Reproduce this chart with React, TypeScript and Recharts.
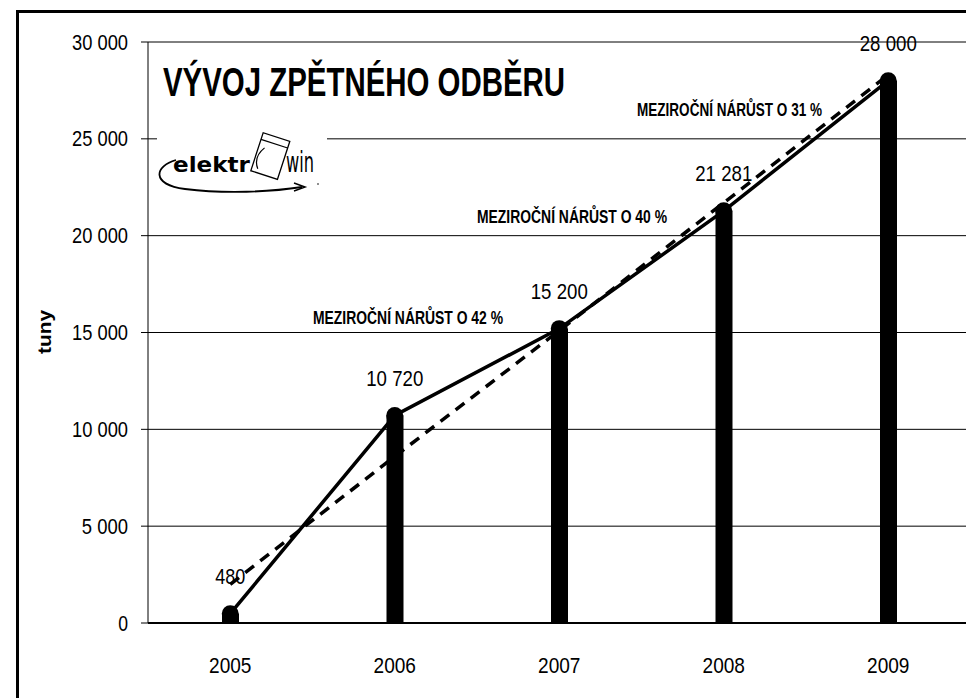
import React from 'react';
import { ComposedChart, Bar, Line, XAxis, YAxis, CartesianGrid, LabelList } from 'recharts';

const years = ['2005', '2006', '2007', '2008', '2009'];
const collected = [480, 10720, 15200, 21281, 28000];
const trend = [2000, 8600, 15100, 21700, 28300];
const yTicks = [0, 5000, 10000, 15000, 20000, 25000, 30000];
const chartTitle = 'VÝVOJ ZPĚTNÉHO ODBĚRU';
const yLabel = 'tuny';
const growthNotes = ['MEZIROČNÍ NÁRŮST O 42 %', 'MEZIROČNÍ NÁRŮST O 40 %', 'MEZIROČNÍ NÁRŮST O 31 %'];
const logoWords = ['elektr', 'win'];

const data = years.map((y, i) => ({ year: y, value: collected[i], trend: trend[i] }));

const FONT = "'Liberation Sans Narrow', 'Arial Narrow', 'Liberation Sans', sans-serif";

const fmt = (v: number) => String(v).replace(/\B(?=(\d{3})+(?!\d))/g, ' ');
const numWidth = (s: string, digit: number) =>
  s.split('').reduce((w, ch) => w + (ch === ' ' ? 7 : digit), 0);

const YTick = (props: any) => {
  const { x, y, payload } = props;
  const s = fmt(payload.value);
  return (
    <text x={x} y={y} textAnchor="end" dominantBaseline="central" fontFamily={FONT} fontSize={22} fill="#000"
      textLength={numWidth(s, 9.8)} lengthAdjust="spacingAndGlyphs">
      {s}
    </text>
  );
};

const XTick = (props: any) => {
  const { x, y, payload } = props;
  const s = String(payload.value);
  return (
    <text x={x} y={y + 34} textAnchor="middle" dominantBaseline="central" fontFamily={FONT} fontSize={22} fill="#000"
      textLength={numWidth(s, 10.6)} lengthAdjust="spacingAndGlyphs">
      {s}
    </text>
  );
};

const ValueLabel = (props: any) => {
  const { x, y, value } = props;
  const s = fmt(value);
  return (
    <text x={x} y={y - 37} textAnchor="middle" dominantBaseline="central" fontFamily={FONT} fontSize={22} fill="#000"
      textLength={numWidth(s, 10)} lengthAdjust="spacingAndGlyphs">
      {s}
    </text>
  );
};

export default function App() {
  return (
    <div style={{ position: 'fixed', left: 0, top: 0, width: 966, height: 698, overflow: 'hidden', background: '#fff' }}>
      <div style={{ position: 'absolute', left: 0, top: 0 }}>
        <ComposedChart width={980} height={698} data={data} margin={{ top: 42, right: 9.5, bottom: 0, left: 0 }}>
          <CartesianGrid vertical={false} stroke="#000" strokeWidth={1} />
          <XAxis
            dataKey="year"
            height={75}
            tickLine={false}
            axisLine={{ stroke: '#000', strokeWidth: 2 }}
            tick={<XTick />}
            interval={0}
          />
          <YAxis
            width={148}
            domain={[0, 30000]}
            ticks={yTicks}
            tickSize={7}
            tickMargin={13}
            tickLine={{ stroke: '#000' }}
            axisLine={{ stroke: '#000' }}
            tick={<YTick />}
            interval={0}
          />
          <Bar dataKey="value" barSize={17} fill="#000" isAnimationActive={false} />
          <Line
            dataKey="trend"
            stroke="#000"
            strokeWidth={3.5}
            strokeDasharray="11 8"
            dot={false}
            activeDot={false}
            isAnimationActive={false}
          />
          <Line
            dataKey="value"
            stroke="#000"
            strokeWidth={3.5}
            dot={{ r: 8.5, fill: '#000', stroke: 'none' }}
            activeDot={false}
            isAnimationActive={false}
          >
            <LabelList dataKey="value" content={<ValueLabel />} />
          </Line>
        </ComposedChart>
      </div>
      <svg width={966} height={698} style={{ position: 'absolute', left: 0, top: 0, pointerEvents: 'none' }}>
        <text x={163} y={96} fontFamily={FONT} fontWeight="bold" fontSize={41} textLength={402} lengthAdjust="spacingAndGlyphs" fill="#000">
          {chartTitle}
        </text>
        <g>
          <rect x={157} y={122} width={170} height={76} fill="#fff" />
          <text x={173} y={172} fontFamily="'DejaVu Sans', sans-serif" fontWeight="bold" fontSize={22} textLength={77} lengthAdjust="spacingAndGlyphs" fill="#000">
            {logoWords[0]}
          </text>
          <g transform="rotate(18 270 157)">
            <rect x={256} y={136} width={28} height={40} fill="none" stroke="#000" strokeWidth={1.3} />
            <line x1={256} y1={143} x2={284} y2={143} stroke="#000" strokeWidth={1.2} />
            <path d="M 262 150 Q 254 162 262 172" fill="none" stroke="#000" strokeWidth={1.2} />
          </g>
          <text x={286} y={172} fontFamily="'DejaVu Sans', sans-serif" fontSize={28} textLength={28} lengthAdjust="spacingAndGlyphs" fill="#000">
            {logoWords[1]}
          </text>
          <path d="M 176 160 C 155 166, 150 184, 185 189 C 225 194, 270 192, 302 187" fill="none" stroke="#000" strokeWidth={1.8} />
          <path d="M 294 183 L 305 187 L 294 191" fill="none" stroke="#000" strokeWidth={1.5} />
          <circle cx={318} cy={184} r={0.8} fill="#000" />
        </g>
        <text x={313} y={318} dominantBaseline="central" fontFamily={FONT} fontWeight="bold" fontSize={18} textLength={190} lengthAdjust="spacingAndGlyphs" fill="#000">
          {growthNotes[0]}
        </text>
        <text x={477} y={217} dominantBaseline="central" fontFamily={FONT} fontWeight="bold" fontSize={18} textLength={190} lengthAdjust="spacingAndGlyphs" fill="#000">
          {growthNotes[1]}
        </text>
        <text x={637} y={110} dominantBaseline="central" fontFamily={FONT} fontWeight="bold" fontSize={18} textLength={185} lengthAdjust="spacingAndGlyphs" fill="#000">
          {growthNotes[2]}
        </text>
        <text
          x={44}
          y={332}
          transform="rotate(-90 44 332)"
          textAnchor="middle"
          dominantBaseline="central"
          fontFamily={FONT}
          fontWeight="bold"
          fontSize={19}
          textLength={44}
          lengthAdjust="spacingAndGlyphs"
          fill="#000"
        >
          {yLabel}
        </text>
      </svg>
      <div style={{ position: 'absolute', left: 16, top: 10, width: 1000, height: 1000, border: '3px solid #000', boxSizing: 'border-box' }} />
    </div>
  );
}
